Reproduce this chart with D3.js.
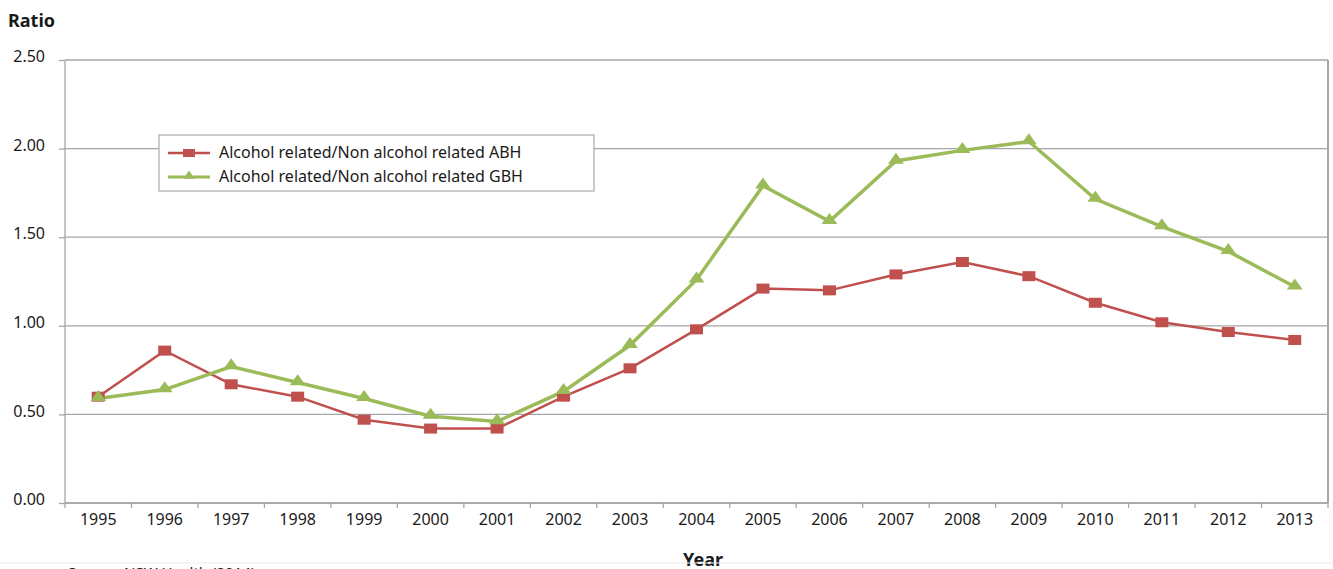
<!DOCTYPE html>
<html>
<head>
<meta charset="utf-8">
<script src="https://cdn.jsdelivr.net/npm/d3@7"></script>
<style>
  body { margin: 0; background: #fff; }
  text { font-family: "Noto Sans", "Open Sans", sans-serif; fill: #1a1a1a; }
  .tick text { font-size: 16px; }
  .legend-text { font-size: 16px; }
  .axis-title { font-size: 18px; font-weight: bold; }
</style>
</head>
<body>
<div id="viz_container"></div>
<script>
// data
const years = ["1995","1996","1997","1998","1999","2000","2001","2002","2003","2004","2005","2006","2007","2008","2009","2010","2011","2012","2013"];
const abh = [0.60,0.86,0.67,0.60,0.47,0.42,0.42,0.60,0.76,0.98,1.21,1.20,1.29,1.36,1.28,1.13,1.02,0.965,0.92];
const gbh = [0.59,0.64,0.77,0.68,0.59,0.49,0.46,0.63,0.89,1.26,1.79,1.59,1.93,1.99,2.04,1.715,1.56,1.42,1.22];
const yTicks = [0, 0.5, 1.0, 1.5, 2.0, 2.5];
const seriesNames = ["Alcohol related/Non alcohol related ABH", "Alcohol related/Non alcohol related GBH"];

const W = 1333, H = 569;
const margin = {top: 60, right: 5, bottom: 66, left: 65};
const width = W - margin.left - margin.right;
const height = H - margin.top - margin.bottom;

const svg = d3.select("#viz_container")
  .append("svg")
    .attr("width", W)
    .attr("height", H)
  .append("g")
    .attr("transform", `translate(${margin.left},${margin.top})`);

// scales
const xScale = d3.scaleBand()
  .domain(years)
  .range([0, width]);

const yScale = d3.scaleLinear()
  .domain([0, 2.5])
  .range([height, 0]);

// grid lines
svg.append("g")
  .selectAll("line")
  .data(yTicks)
  .join("line")
    .attr("x1", 0)
    .attr("x2", width)
    .attr("y1", d => yScale(d))
    .attr("y2", d => yScale(d))
    .style("stroke", "#a6a6a6")
    .style("stroke-width", 1.3);

// right border
svg.append("line")
  .attr("x1", width).attr("x2", width)
  .attr("y1", 0).attr("y2", height)
  .style("stroke", "#a6a6a6")
  .style("stroke-width", 2);

// y axis
const yAxis = svg.append("g")
  .call(d3.axisLeft(yScale).tickValues(yTicks).tickFormat(d3.format(".2f")).tickSize(6).tickPadding(14));
yAxis.selectAll("line, path").style("stroke", "#a6a6a6").style("stroke-width", 1.3);
yAxis.select(".domain").attr("d", `M0,0V${height}`);
yAxis.selectAll(".tick text").attr("dy", "0.1em");

// x axis
const xAxis = svg.append("g")
  .attr("transform", `translate(0,${height})`)
  .call(d3.axisBottom(xScale).tickSize(0).tickPadding(11));
xAxis.select(".domain").style("stroke", "#a6a6a6").style("stroke-width", 1.3).attr("d", `M0,0H${width}`);
// tick marks at band edges
xAxis.append("g")
  .selectAll("line")
  .data(years.concat(["end"]))
  .join("line")
    .attr("x1", (d, i) => i < years.length ? xScale(d) : width)
    .attr("x2", (d, i) => i < years.length ? xScale(d) : width)
    .attr("y1", 0)
    .attr("y2", 5)
    .style("stroke", "#a6a6a6")
    .style("stroke-width", 1.3);

// lines
const cx = d => xScale(d) + xScale.bandwidth() / 2;

const line = d3.line()
  .x((d, i) => cx(years[i]))
  .y(d => yScale(d));

svg.append("path")
  .datum(abh)
  .attr("d", line)
  .style("fill", "none")
  .style("stroke", "#c0504d")
  .style("stroke-width", 2.5);

svg.append("path")
  .datum(gbh)
  .attr("d", line)
  .style("fill", "none")
  .style("stroke", "#9bbb59")
  .style("stroke-width", 3.5);

// markers
svg.append("g")
  .selectAll("rect")
  .data(abh)
  .join("rect")
    .attr("x", (d, i) => cx(years[i]) - 6.5)
    .attr("y", d => yScale(d) - 5)
    .attr("width", 13)
    .attr("height", 10)
    .style("fill", "#c0504d");

const tri = d3.symbol().type(d3.symbolTriangle).size(70);
svg.append("g")
  .selectAll("path")
  .data(gbh)
  .join("path")
    .attr("d", tri)
    .attr("transform", (d, i) => `translate(${cx(years[i])},${yScale(d) - 1}) scale(1.25,1)`)
    .style("fill", "#9bbb59");

// legend
const legend = svg.append("g")
  .attr("transform", `translate(${159 - margin.left},${135 - margin.top})`);

legend.append("rect")
  .attr("width", 435)
  .attr("height", 56)
  .style("fill", "#fff")
  .style("stroke", "#b0b0b0")
  .style("stroke-width", 1.3);

const legendColors = ["#c0504d", "#9bbb59"];
seriesNames.forEach((name, i) => {
  const ly = 18 + i * 24;
  legend.append("line")
    .attr("x1", 9).attr("x2", 51)
    .attr("y1", ly).attr("y2", ly)
    .style("stroke", legendColors[i])
    .style("stroke-width", i === 0 ? 2.5 : 3);
  if (i === 0) {
    legend.append("rect")
      .attr("x", 24).attr("y", ly - 4)
      .attr("width", 12).attr("height", 8)
      .style("fill", legendColors[i]);
  } else {
    legend.append("path")
      .attr("d", d3.symbol().type(d3.symbolTriangle).size(40))
      .attr("transform", `translate(30,${ly - 1}) scale(1.2,1)`)
      .style("fill", legendColors[i]);
  }
  legend.append("text")
    .attr("class", "legend-text")
    .attr("x", 60)
    .attr("y", ly + 5)
    .text(name);
});

// y title
svg.append("text")
  .attr("class", "axis-title")
  .attr("x", 8 - margin.left)
  .attr("y", 27 - margin.top)
  .text("Ratio");

// x title
svg.append("text")
  .attr("class", "axis-title")
  .attr("x", 703 - margin.left)
  .attr("y", 566 - margin.top)
  .attr("text-anchor", "middle")
  .text("Year");

// separator and source (cut off at bottom, as in the original)
svg.append("line")
  .attr("x1", -margin.left).attr("x2", W)
  .attr("y1", 563 - margin.top).attr("y2", 563 - margin.top)
  .style("stroke", "#ececec")
  .style("stroke-width", 1);

svg.append("text")
  .attr("x", 68 - margin.left)
  .attr("y", 578 - margin.top)
  .style("font-size", "15px")
  .text("Source: NSW Health (2014)");
</script>
</body>
</html>
